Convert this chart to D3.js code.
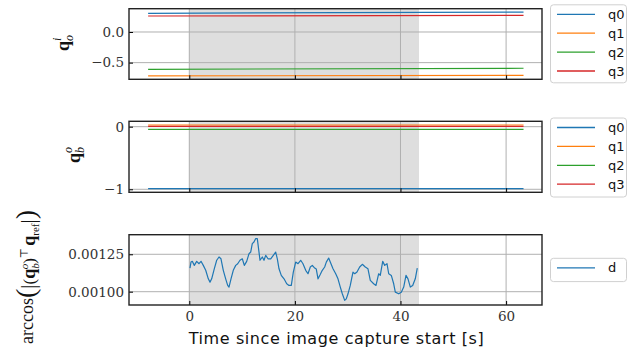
<!DOCTYPE html>
<html><head><meta charset="utf-8">
<script src="https://cdn.jsdelivr.net/npm/d3@7"></script>
<style>body{margin:0;background:#fff}</style>
</head><body><svg id="c" width="631" height="352"></svg>
<script>
// ---- data ----
const seriesNames = ["q0", "q1", "q2", "q3"];
const seriesColors = ["#1f77b4", "#ff7f0e", "#2ca02c", "#d62728"];
const qTime = [-7.8, 63.3];
const qoiValues = [[0.305, 0.325], [-0.717, -0.707], [-0.609, -0.592], [0.261, 0.272]];
const qboValues = [[-0.99, -0.99], [0.027, 0.027], [-0.042, -0.042], [0.006, 0.006]];
const shadeRange = [0, 43.5];
const xTicks = [0, 20, 40, 60];
const yTicksTop = [0.0, -0.5];
const yTicksMid = [0, -1];
const yTicksBot = [0.00100, 0.00125];
const dTime = [0.13,0.32,0.57,0.95,1.40,1.84,2.22,2.65,3.11,3.60,3.92,4.24,4.73,5.19,5.63,6.00,6.44,6.89,7.27,7.52,7.90,8.33,8.79,9.17,9.60,10.04,10.42,10.87,11.31,11.63,11.93,12.25,12.58,12.88,13.20,13.39,13.83,14.15,14.47,14.91,15.42,15.91,16.36,16.67,16.99,17.42,17.94,18.45,18.88,19.32,19.70,20.15,20.59,21.10,21.53,22.05,22.48,22.92,23.30,23.75,24.05,24.38,24.75,25.19,25.64,25.95,26.40,26.70,27.22,27.73,28.16,28.60,28.98,29.43,29.73,30.06,30.49,31.00,31.33,31.76,32.27,32.77,33.33,33.84,34.28,34.92,35.36,35.87,36.17,36.63,37.01,37.44,37.77,38.26,38.71,39.02,39.66,40.15,40.61,41.04,41.42,41.86,42.31,42.80,43.18];
const dValues = [0.001158,0.001198,0.001203,0.001176,0.001203,0.001187,0.001203,0.001176,0.001143,0.001086,0.001064,0.001086,0.001153,0.001210,0.001232,0.001220,0.001143,0.001086,0.001042,0.001031,0.001086,0.001143,0.001176,0.001187,0.001210,0.001220,0.001176,0.001203,0.001254,0.001265,0.001321,0.001332,0.001355,0.001355,0.001265,0.001210,0.001232,0.001210,0.001243,0.001220,0.001220,0.001243,0.001265,0.001220,0.001153,0.001109,0.001086,0.001053,0.001042,0.001042,0.001131,0.001198,0.001187,0.001210,0.001187,0.001143,0.001120,0.001165,0.001176,0.001158,0.001151,0.001086,0.001111,0.001143,0.001165,0.001198,0.001225,0.001198,0.001153,0.001120,0.001086,0.001031,0.000986,0.000942,0.000952,0.000986,0.001042,0.001131,0.001120,0.001131,0.001165,0.001183,0.001165,0.001153,0.001076,0.001053,0.001042,0.001120,0.001109,0.001203,0.001176,0.001187,0.001120,0.001109,0.001053,0.000997,0.000986,0.000997,0.001031,0.001109,0.001086,0.001031,0.001042,0.001086,0.001158];

// ---- layout ----
const svg = d3.select("#c");
const L = 129, R = 542;
const panels = [
  {top: 8.7, bottom: 79.3, domain: [-0.772, 0.38], ticks: yTicksTop, fmt: d => d3.format(".1f")(d).replace("-", "\u2212")},
  {top: 121.3, bottom: 192.3, domain: [-1.048, 0.086], ticks: yTicksMid, fmt: d => String(d).replace("-", "\u2212")},
  {top: 234.7, bottom: 305, domain: [0.000911, 0.001381], ticks: yTicksBot, fmt: d => d3.format(".5f")(d)}
];
const x = d3.scaleLinear().domain([-11.42, 66.8]).range([L, R]);
const serif = "'DejaVu Serif', 'Liberation Serif', serif";
const mserif = "'Liberation Serif', 'DejaVu Serif', serif";
const sans = "'DejaVu Sans', sans-serif";

panels.forEach((p, i) => {
  const y = d3.scaleLinear().domain(p.domain).range([p.bottom, p.top]);
  p.y = y;
  const g = svg.append("g");
  const clipId = "clip" + i;
  svg.append("clipPath").attr("id", clipId).append("rect")
    .attr("x", L).attr("y", p.top).attr("width", R - L).attr("height", p.bottom - p.top);
  const plot = g.append("g").attr("clip-path", `url(#${clipId})`);
  plot.append("rect").attr("x", x(shadeRange[0])).attr("y", p.top)
    .attr("width", x(shadeRange[1]) - x(shadeRange[0])).attr("height", p.bottom - p.top)
    .attr("fill", "#dedede");
  plot.selectAll(".gx").data(xTicks).join("line")
    .attr("x1", d => x(d)).attr("x2", d => x(d)).attr("y1", p.top).attr("y2", p.bottom)
    .attr("stroke", "#b0b0b0").attr("stroke-width", 1);
  plot.selectAll(".gy").data(p.ticks).join("line")
    .attr("x1", L).attr("x2", R).attr("y1", d => y(d)).attr("y2", d => y(d))
    .attr("stroke", "#b0b0b0").attr("stroke-width", 1);
  const line = d3.line().x(d => x(d[0])).y(d => y(d[1]));
  if (i < 2) {
    const vals = i === 0 ? qoiValues : qboValues;
    vals.forEach((v, k) => {
      plot.append("path").datum(qTime.map((t, j) => [t, v[j]]))
        .attr("d", line).attr("fill", "none").attr("stroke", seriesColors[k]).attr("stroke-width", 1.2);
    });
  } else {
    plot.append("path").datum(dTime.map((t, j) => [t, dValues[j]]))
      .attr("d", line).attr("fill", "none").attr("stroke", seriesColors[0]).attr("stroke-width", 1.2)
      .attr("stroke-linejoin", "round");
  }
  const ya = d3.axisLeft(y).tickValues(p.ticks).tickSize(-4).tickPadding(5).tickFormat(p.fmt);
  const yg = g.append("g").attr("transform", `translate(${L},0)`).call(ya);
  const xa = d3.axisBottom(x).tickValues(xTicks).tickSize(-4).tickPadding(6).tickFormat(i === 2 ? d3.format("d") : () => "");
  const xg = g.append("g").attr("transform", `translate(0,${p.bottom})`).call(xa);
  [yg, xg].forEach(a => {
    a.select(".domain").remove();
    a.selectAll(".tick line").attr("stroke", "#000").attr("stroke-width", 1);
    a.selectAll("text").attr("font-family", serif).attr("font-size", 13.5).attr("fill", "#333");
  });
  g.append("rect").attr("x", L).attr("y", p.top).attr("width", R - L).attr("height", p.bottom - p.top)
    .attr("fill", "none").attr("stroke", "#222").attr("stroke-width", 1.4);
});

// ---- legends ----
function legend(top, h, names, colors) {
  const g = svg.append("g");
  g.append("rect").attr("x", 550.5).attr("y", top).attr("width", 76).attr("height", h)
    .attr("rx", 3).attr("fill", "#fff").attr("stroke", "#d0d0d0");
  names.forEach((n, k) => {
    const yy = top + 9.5 + k * 18.9;
    g.append("line").attr("x1", 557).attr("x2", 595).attr("y1", yy).attr("y2", yy)
      .attr("stroke", colors[k]).attr("stroke-width", 1.3);
    g.append("text").attr("x", 608).attr("y", yy + 4.5).text(n)
      .attr("font-family", sans).attr("font-size", 13).attr("fill", "#111");
  });
}
legend(4.8, 78, seriesNames, seriesColors);
legend(118, 79, seriesNames, seriesColors);
legend(258.3, 23.3, ["d"], [seriesColors[0]]);

// ---- y labels ----
function mathLabel(cx, cy, parts) {
  const t = svg.append("text").attr("transform", `translate(${cx},${cy}) rotate(-90)`)
    .attr("text-anchor", "middle").attr("font-family", mserif).attr("fill", "#111");
  parts.forEach(pt => {
    const s = t.append("tspan").text(pt.t).attr("font-size", pt.s || 16);
    if (pt.b) s.attr("font-weight", "bold");
    if (pt.i) s.attr("font-style", "italic");
    if (pt.dy) s.attr("dy", pt.dy);
    if (pt.dx) s.attr("dx", pt.dx);
  });
  return t;
}
mathLabel(69, 43, [{t: "q", b: 1, s: 18}, {t: "o", i: 1, s: 12, dy: 4}, {t: "i", i: 1, s: 12, dx: -6, dy: -12}, {t: "", dy: 8}]);
mathLabel(80, 155, [{t: "q", b: 1, s: 18}, {t: "b", i: 1, s: 12, dy: 4}, {t: "o", i: 1, s: 12, dx: -6, dy: -12}, {t: "", dy: 8}]);
mathLabel(33, 277, [
  {t: "arccos", s: 18},
  {t: "(", s: 28, dy: 2},
  {t: "|", s: 21, dy: 0},
  {t: "(", s: 17},
  {t: "q", b: 1, s: 18},
  {t: "b", i: 1, s: 11, dy: 4},
  {t: "o", i: 1, s: 11, dx: -6, dy: -11},
  {t: ")", s: 17, dy: 7},
  {t: "\u22A4", s: 11, dy: -7},
  {t: "q", b: 1, s: 18, dy: 7, dx: 2},
  {t: "ref", s: 11, dy: 4},
  {t: "|", s: 21, dy: -4},
  {t: ")", s: 28}
]);

// ---- x label ----
svg.append("text").attr("x", (L + R) / 2 + 1).attr("y", 344).attr("text-anchor", "middle")
  .attr("font-family", sans).attr("font-size", 16).attr("letter-spacing", 0.6).attr("fill", "#111")
  .text("Time since image capture start [s]");
</script></body></html>
